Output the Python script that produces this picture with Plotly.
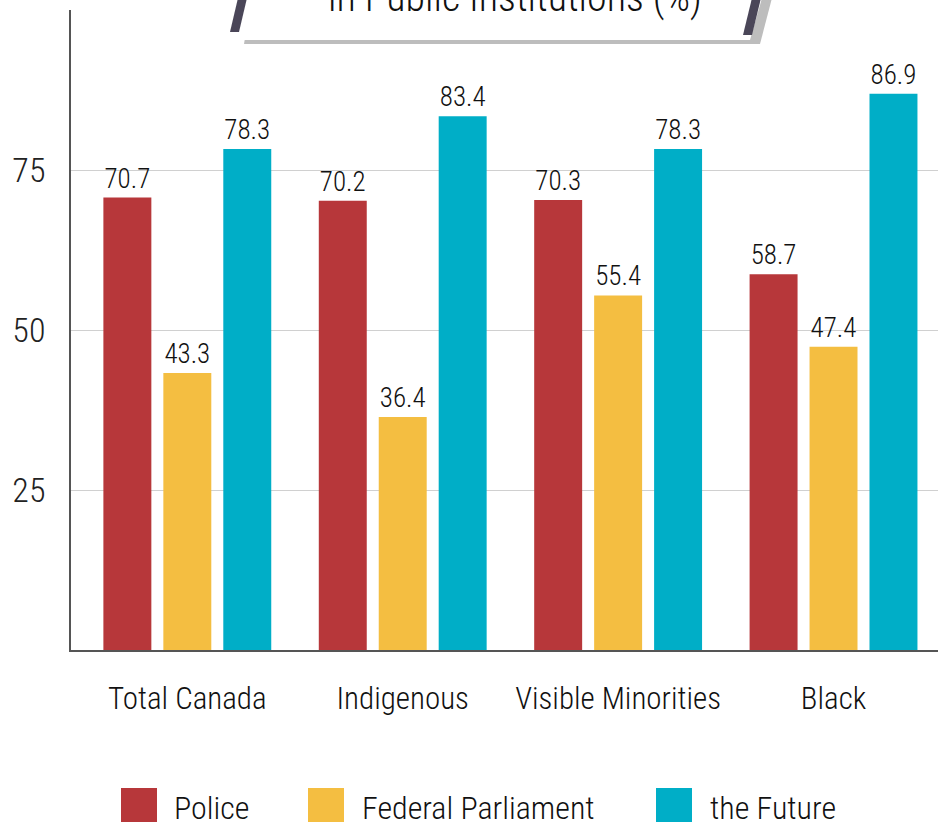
import plotly.graph_objects as go

categories = ["Total Canada", "Indigenous", "Visible Minorities", "Black"]
police = [70.7, 70.2, 70.3, 58.7]
federal_parliament = [43.3, 36.4, 55.4, 47.4]
the_future = [78.3, 83.4, 78.3, 86.9]
series_names = ["Police", "Federal Parliament", "the Future"]
colors = ["#B7373A", "#F4BE41", "#00AEC7"]
y_ticks = [25, 50, 75]
title_text = "in Public Institutions (%)"

FONT = "Liberation Sans Narrow, Roboto Condensed, Arial Narrow, sans-serif"
WT = 300

fig = go.Figure()
for name, vals, col in zip(series_names, [police, federal_parliament, the_future], colors):
    fig.add_trace(go.Bar(
        x=categories, y=vals, name=name, marker_color=col, marker_line_width=0,
        text=[f"{v:.1f}" for v in vals], textposition="outside", cliponaxis=False,
        textfont=dict(family=FONT, size=27, color="#111", weight=WT), showlegend=False,
    ))

W, H = 938, 827
ml, mr, mt, mb = 71, 0, 10, 177
PW, PH = W - ml - mr, H - mt - mb

fig.update_layout(
    width=W, height=H,
    margin=dict(l=ml, r=mr, t=mt, b=mb),
    paper_bgcolor="white", plot_bgcolor="white",
    barmode="group", bargap=0.165, bargroupgap=0.2,
    font=dict(family=FONT, color="#222"),
    xaxis=dict(range=[-0.54, 3.485], showline=True, linecolor="#555", linewidth=1.5,
               ticks="", tickfont=dict(family=FONT, size=31, color="#111", weight=WT),
               ticklabelstandoff=20),
    yaxis=dict(range=[0, 100], tickvals=y_ticks, showline=True, linecolor="#555",
               linewidth=1.5, gridcolor="#d0d0d0", gridwidth=1, zeroline=False,
               ticks="", tickfont=dict(family=FONT, size=34, color="#222", weight=WT),
               ticklabelstandoff=17),
)

# helpers: page pixel -> paper coords (relative to plot area)
def px(x):
    return (x - ml) / PW
def py(y):
    return (H - mb - y) / PH

def poly(points, color):
    path = "M " + " L ".join(f"{px(x)},{py(y)}" for x, y in points) + " Z"
    return dict(type="path", xref="paper", yref="paper", path=path,
                fillcolor=color, line=dict(width=0), layer="above")

shapes = [
    poly([(252, -2), (772, -2), (760, 44), (244, 44)], "#bdbdbd"),   # shadow
    poly([(242, -2), (762, -2), (750, 40), (232, 40)], "white"),     # banner
    poly([(238, -2), (247, -2), (239, 32), (230, 32)], "#4a4658"),   # left edge
    poly([(752, -2), (761, -2), (752, 35), (743, 35)], "#4a4658"),   # right edge
]

annotations = [dict(text=title_text, xref="paper", yref="paper",
                    x=px(515), y=py(23), xanchor="center", yanchor="bottom", showarrow=False,
                    font=dict(family=FONT, size=40, color="#111", weight=WT))]

# Custom legend with large swatches
legend_items = [(121, 172), (308, 360), (656, 708)]
for (sx, tx), name, col in zip(legend_items, series_names, colors):
    shapes.append(dict(type="rect", xref="paper", yref="paper",
                       x0=px(sx), x1=px(sx + 36), y0=py(822), y1=py(788),
                       fillcolor=col, line=dict(width=0)))
    annotations.append(dict(text=name, xref="paper", yref="paper", x=px(tx), y=py(808),
                            xanchor="left", yanchor="middle", showarrow=False,
                            font=dict(family=FONT, size=32, color="#111", weight=WT)))

fig.update_layout(shapes=shapes, annotations=annotations)
fig.write_html("out.html", config={"displayModeBar": False},
               post_script="document.body.style.margin='0';")
